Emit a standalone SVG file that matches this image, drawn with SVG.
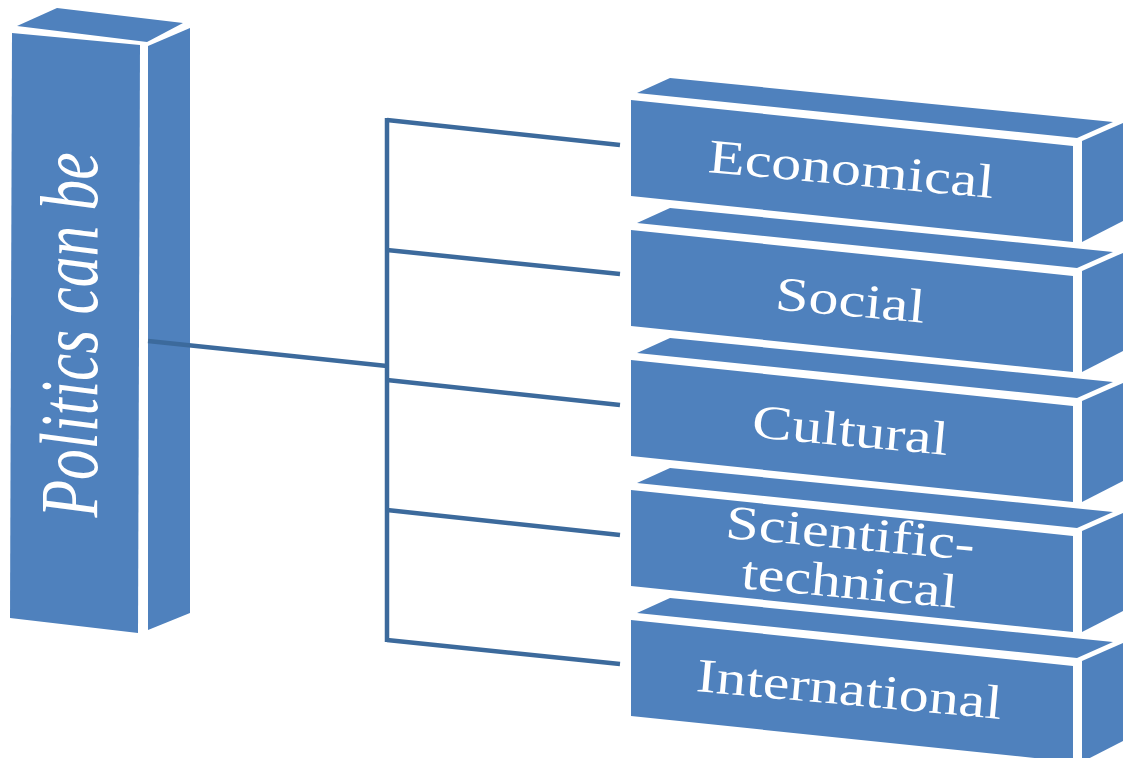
<svg xmlns="http://www.w3.org/2000/svg" width="1123" height="758" viewBox="0 0 1123 758">
<style>
.f{fill:#4f81bd}
.c{stroke:#3c6a9c;stroke-width:4.5;fill:none;stroke-linecap:butt}
.t{font-family:"Liberation Serif","Times New Roman",serif;font-size:48px;fill:#ffffff;text-anchor:middle}
.lt{font-family:"Liberation Serif","Times New Roman",serif;font-size:82px;font-style:italic;fill:#ffffff;text-anchor:middle}
</style>
<rect width="1123" height="758" fill="#ffffff"/>
<g id="root">
<polygon class="f" points="17,26 57,8 183,23 147,42"/>
<polygon class="f" points="12,33 140,45 138,633 10,618"/>
<polygon class="f" points="148,46 190,28 190,613 148,630"/>
<text class="lt" transform="translate(97,335) rotate(-90)" textLength="365" lengthAdjust="spacingAndGlyphs">Politics can be</text>
</g>
<g id="connectors">
<path class="c" d="M148,341 L387,366"/>
<path class="c" d="M387,118 L387,642"/>
<path class="c" d="M387,120 L620,145"/>
<path class="c" d="M387,250 L620,274"/>
<path class="c" d="M387,380 L620,405"/>
<path class="c" d="M387,510 L620,535"/>
<path class="c" d="M387,640 L620,664"/>
</g>
<g id="economical">
<polygon class="f" points="637,93 670,78 1113,122 1077,138"/>
<polygon class="f" points="631,100 1073,146 1073,242 631,196"/>
<polygon class="f" points="1082,141 1125,122 1125,220 1082,242"/>
<text class="t" transform="translate(850,185) rotate(5.2) scale(1.25,1)">Economical</text>
</g>
<g id="social">
<polygon class="f" points="637,223 670,208 1113,252 1077,268"/>
<polygon class="f" points="631,230 1073,276 1073,372 631,326"/>
<polygon class="f" points="1082,271 1125,252 1125,350 1082,372"/>
<text class="t" transform="translate(849,316) rotate(5.2) scale(1.25,1)">Social</text>
</g>
<g id="cultural">
<polygon class="f" points="637,353 670,338 1113,382 1077,398"/>
<polygon class="f" points="631,360 1073,406 1073,502 631,456"/>
<polygon class="f" points="1082,401 1125,382 1125,480 1082,502"/>
<text class="t" transform="translate(849,446) rotate(5.2) scale(1.25,1)">Cultural</text>
</g>
<g id="scientific">
<polygon class="f" points="637,483 670,468 1113,512 1077,528"/>
<polygon class="f" points="631,490 1073,536 1073,632 631,586"/>
<polygon class="f" points="1082,531 1125,512 1125,610 1082,632"/>
<text class="t" transform="translate(849,549) rotate(5.2) scale(1.25,1)">Scientific-</text>
<text class="t" transform="translate(848,598) rotate(5.2) scale(1.25,1)">technical</text>
</g>
<g id="international">
<polygon class="f" points="637,613 670,598 1113,642 1077,658"/>
<polygon class="f" points="631,620 1073,666 1073,762 631,716"/>
<polygon class="f" points="1082,661 1125,642 1125,740 1082,762"/>
<text class="t" transform="translate(848,705) rotate(5.2) scale(1.25,1)">International</text>
</g>
</svg>
